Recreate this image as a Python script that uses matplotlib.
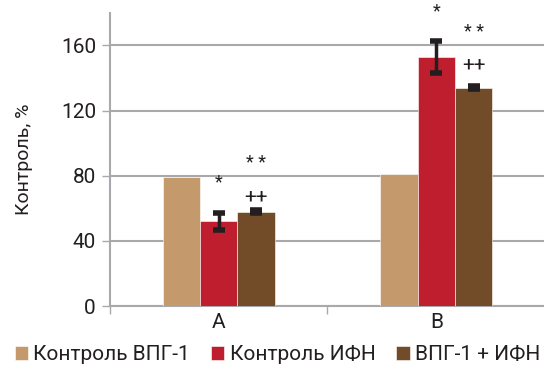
import matplotlib.pyplot as plt
import numpy as np

plt.rcParams['font.family'] = ['Roboto', 'DejaVu Sans']

# данные
groups = ['A', 'B']
series = ['Контроль ВПГ-1', 'Контроль ИФН', 'ВПГ-1 + ИФН']
values = {
    'Контроль ВПГ-1': [79, 81],
    'Контроль ИФН': [52, 153],
    'ВПГ-1 + ИФН': [58, 134],
}
errors = {
    'Контроль ВПГ-1': [0, 0],
    'Контроль ИФН': [5, 10],
    'ВПГ-1 + ИФН': [1, 1],
}
# значки достоверности над столбцами: (группа, серия, текст, высота)
marks = [
    (0, 1, '*', 76),
    (0, 2, '* *', 88),
    (0, 2, '++', 67),
    (1, 1, '*', 181),
    (1, 2, '* *', 168),
    (1, 2, '++', 148),
]
colors = ['#C49A6C', '#BE1E2D', '#724C29']

fig = plt.figure(figsize=(5.44, 3.77), dpi=100)
ax = fig.add_axes([0.202, 0.188, 0.80, 0.778])

x = np.arange(len(groups))
w = 0.172
for i, name in enumerate(series):
    err = errors[name]
    ax.bar(x + (i - 1) * w, values[name], width=w, color=colors[i],
           edgecolor='white', linewidth=0.4, label=name, zorder=3)
    if any(err):
        ax.errorbar(x + (i - 1) * w, values[name], yerr=err, fmt='none',
                    ecolor='#231f20', elinewidth=2.5, capsize=4.5, capthick=4, zorder=4)

for g, s, txt, h in marks:
    ax.text(x[g] + (s - 1) * w, h, txt, ha='center', va='center',
            fontsize=15 if txt == '++' else 13, color='#231f20')

ax.set_ylim(0, 180)
ax.set_xlim(-0.5, 1.5)
ax.set_yticks([0, 40, 80, 120, 160])
ax.yaxis.grid(True, color='#a7a9ac', linewidth=1.5, zorder=0)
ax.set_axisbelow(True)

ax.set_xticks([-0.5, 0.5, 1.5])
ax.set_xticklabels([])
ax.set_xticks(x, minor=True)
ax.set_xticklabels(groups, minor=True)
ax.tick_params(axis='x', which='minor', length=0, labelsize=15, pad=5, colors='#231f20')
ax.tick_params(axis='x', which='major', length=6, width=1, color='#a7a9ac')
ax.tick_params(axis='y', length=6, width=1, color='#a7a9ac', labelsize=15,
               labelcolor='#231f20', pad=4)

for sp in ['top', 'right']:
    ax.spines[sp].set_visible(False)
for sp in ['left', 'bottom']:
    ax.spines[sp].set_color('#a7a9ac')
    ax.spines[sp].set_linewidth(1.5)

ax.set_ylabel('Контроль, %', fontsize=14, color='#231f20', labelpad=20)

fig.legend(loc='lower center', bbox_to_anchor=(0.51, -0.015), ncol=3, frameon=False,
           fontsize=15, handlelength=0.65, handleheight=0.65, handletextpad=0.25,
           columnspacing=1.0, labelcolor='#231f20')

fig.savefig('out.png', dpi=100)
